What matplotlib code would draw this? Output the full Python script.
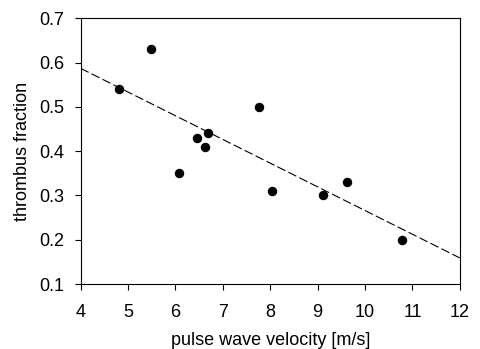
import numpy as np
import matplotlib
matplotlib.use("Agg")
import matplotlib.pyplot as plt

plt.rcParams['font.family'] = ['Liberation Sans', 'DejaVu Sans']

pwv = [4.81, 5.48, 6.07, 6.45, 6.63, 6.69, 7.77, 8.04, 9.12, 9.62, 10.78]
thrombus = [0.54, 0.63, 0.35, 0.43, 0.41, 0.44, 0.50, 0.31, 0.30, 0.33, 0.20]
fit_x = [4, 12]
fit_y = [0.587, 0.159]

xticks = [4, 5, 6, 7, 8, 9, 10, 11, 12]
yticks = [0.1, 0.2, 0.3, 0.4, 0.5, 0.6, 0.7]

fig = plt.figure(figsize=(4.8, 3.49), dpi=100)
ax = fig.add_axes([0.168, 0.186, 0.958 - 0.168, 0.9476 - 0.186])

ax.plot(fit_x, fit_y, color='black', lw=0.8, dashes=(8, 3))
ax.plot(pwv, thrombus, 'o', color='black', ms=5.8, zorder=3)

ax.set_xlim(4, 12)
ax.set_ylim(0.1, 0.7)
ax.set_xticks(xticks)
ax.set_xticklabels([str(t) for t in xticks])
ax.set_yticks(yticks)
ax.set_yticklabels([f"{t:.1f}" for t in yticks])
ax.tick_params(direction='out', length=4, width=0.8, labelsize=13)
ax.tick_params(axis='x', pad=10.5)
ax.tick_params(axis='y', pad=8)
for s in ax.spines.values():
    s.set_linewidth(0.8)

ax.set_xlabel('pulse wave velocity [m/s]', fontsize=13, labelpad=7.5)
ax.set_ylabel('thrombus fraction', fontsize=13, labelpad=6)

fig.savefig('out.png', dpi=100)
